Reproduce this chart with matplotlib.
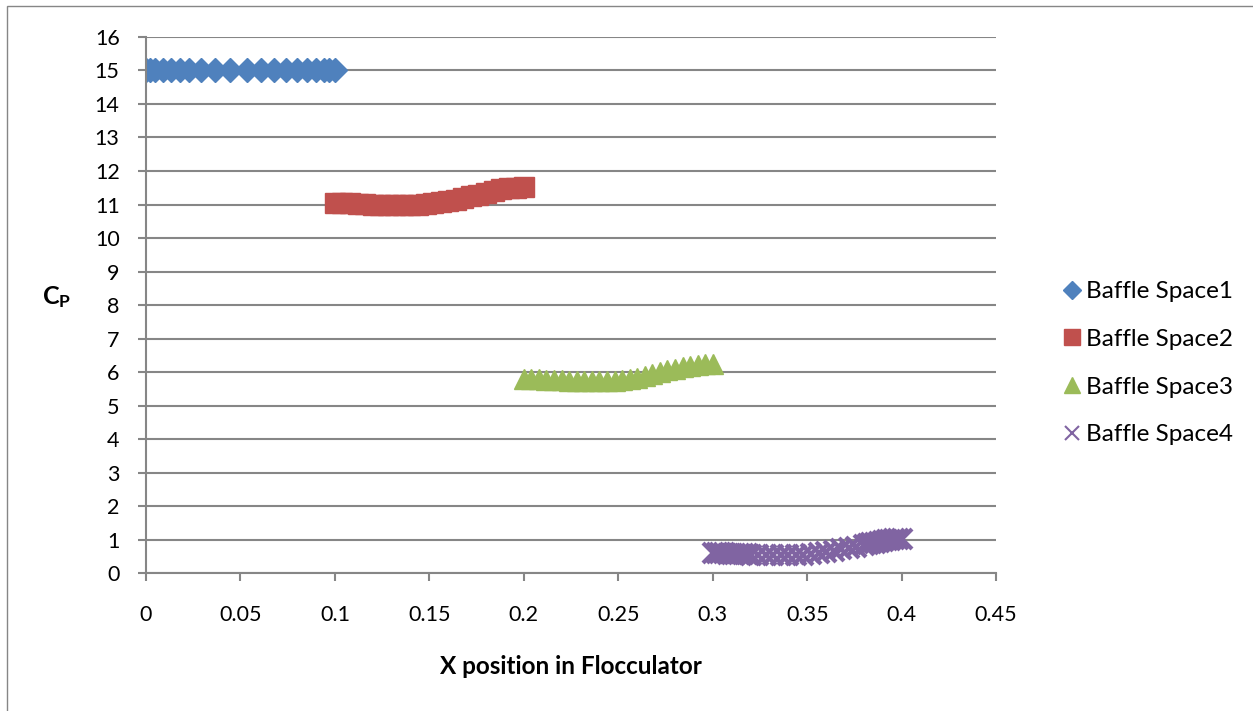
import numpy as np
import matplotlib.pyplot as plt
from matplotlib.patches import Rectangle

plt.rcParams['font.family'] = ['Lato', 'DejaVu Sans']
plt.rcParams['mathtext.fontset'] = 'custom'
plt.rcParams['mathtext.bf'] = 'Lato:bold'
plt.rcParams['mathtext.rm'] = 'Lato'

# Baffle Space1
x1 = [0, 0.002, 0.005, 0.009, 0.013, 0.018, 0.023, 0.029, 0.0365, 0.0445,
      0.0535, 0.061, 0.068, 0.074, 0.08, 0.085, 0.09, 0.094, 0.097, 0.1]
y1 = [15.0] * len(x1)

# Baffle Space2
x2 = [0.100, 0.104, 0.108, 0.112, 0.116, 0.120, 0.124, 0.128, 0.132, 0.136,
      0.140, 0.144, 0.148, 0.152, 0.156, 0.160, 0.164, 0.168, 0.172, 0.176,
      0.180, 0.184, 0.188, 0.192, 0.196, 0.200]
y2 = [11.05, 11.04, 11.03, 11.02, 11.01, 11.00, 10.99, 10.99, 10.99, 10.99,
      10.99, 11.00, 11.01, 11.03, 11.06, 11.09, 11.13, 11.18, 11.24, 11.28,
      11.34, 11.40, 11.46, 11.49, 11.50, 11.51]

# Baffle Space3
x3 = [0.200, 0.204, 0.208, 0.212, 0.216, 0.220, 0.224, 0.228, 0.232, 0.236,
      0.240, 0.244, 0.248, 0.252, 0.256, 0.260, 0.264, 0.268, 0.272, 0.276,
      0.280, 0.284, 0.288, 0.292, 0.296, 0.300]
y3 = [5.80, 5.79, 5.78, 5.77, 5.76, 5.75, 5.74, 5.73, 5.72, 5.72,
      5.72, 5.72, 5.73, 5.75, 5.78, 5.82, 5.87, 5.93, 5.99, 6.05,
      6.10, 6.15, 6.19, 6.22, 6.24, 6.25]

# Baffle Space4
x4 = [0.300, 0.302, 0.304, 0.306, 0.308, 0.310, 0.312, 0.314, 0.316, 0.318,
      0.320, 0.324, 0.328, 0.332, 0.336, 0.340, 0.344, 0.348, 0.352, 0.356,
      0.360, 0.364, 0.368, 0.372, 0.376, 0.380, 0.382, 0.384, 0.386, 0.388,
      0.390, 0.392, 0.394, 0.396, 0.398, 0.400]
y4 = [0.60, 0.60, 0.59, 0.59, 0.58, 0.58, 0.57, 0.57, 0.56, 0.56,
      0.55, 0.54, 0.53, 0.53, 0.53, 0.53, 0.54, 0.55, 0.57, 0.60,
      0.63, 0.67, 0.71, 0.75, 0.79, 0.84, 0.86, 0.89, 0.91, 0.94,
      0.96, 0.98, 0.99, 1.01, 1.02, 1.03]

labels = ["Baffle Space1", "Baffle Space2", "Baffle Space3", "Baffle Space4"]
xticks = [0, 0.05, 0.1, 0.15, 0.2, 0.25, 0.3, 0.35, 0.4, 0.45]
xticklabels = ["0", "0.05", "0.1", "0.15", "0.2", "0.25", "0.3", "0.35", "0.4", "0.45"]

gray = "#868686"

fig = plt.figure(figsize=(12.53, 7.11), dpi=100)
ax = fig.add_axes([0.1165, 0.194, 0.6785, 0.754])

# chart area border
fig.patches.append(Rectangle((7 / 1253, -0.1), 1.2, 1 - 6 / 711 + 0.1, transform=fig.transFigure,
                             fill=False, edgecolor=gray, linewidth=1.0))

ax.plot(x1, y1, "D", color="#4F81BD", markersize=12, linestyle="none", label=labels[0])
ax.plot(x2, y2, "s", color="#C0504D", markersize=14.5, linestyle="none", label=labels[1])
ax.plot(x3, y3, "^", color="#9BBB59", markersize=14.5, linestyle="none", label=labels[2])
ax.plot(x4, y4, "x", color="#8064A2", markersize=14, markeredgewidth=3, linestyle="none", label=labels[3])

ax.set_xlim(0, 0.45)
ax.set_ylim(0, 16)
ax.set_yticks(range(0, 17))
ax.set_xticks(xticks)
ax.set_xticklabels(xticklabels)
ax.grid(True, axis="y", color=gray, linewidth=1.5)
ax.set_axisbelow(True)

for s in ["top", "right"]:
    ax.spines[s].set_visible(False)
for s in ["left", "bottom"]:
    ax.spines[s].set_color(gray)
    ax.spines[s].set_linewidth(1.5)
ax.tick_params(axis="both", colors=gray, labelcolor="black", labelsize=15.5, length=6, width=1.5)
ax.tick_params(axis="y", pad=13)
ax.tick_params(axis="x", pad=17)

ax.set_xlabel("X position in Flocculator", fontsize=17.5, fontweight="bold")
ax.xaxis.set_label_coords(0.5, -0.153)
ax.set_ylabel(r"$\mathbf{C_P}$", fontsize=18, rotation=0)
ax.yaxis.set_label_coords(-0.105, 0.49)

leg = ax.legend(loc="center left", bbox_to_anchor=(0.838, 0.489), bbox_transform=fig.transFigure,
                frameon=False, fontsize=17.5, handlelength=0.8, handletextpad=0.2,
                labelspacing=1.1, markerscale=0.75, borderpad=0)
leg.legend_handles[3].set_markeredgewidth(1.5)

fig.savefig("out.png", dpi=100)
